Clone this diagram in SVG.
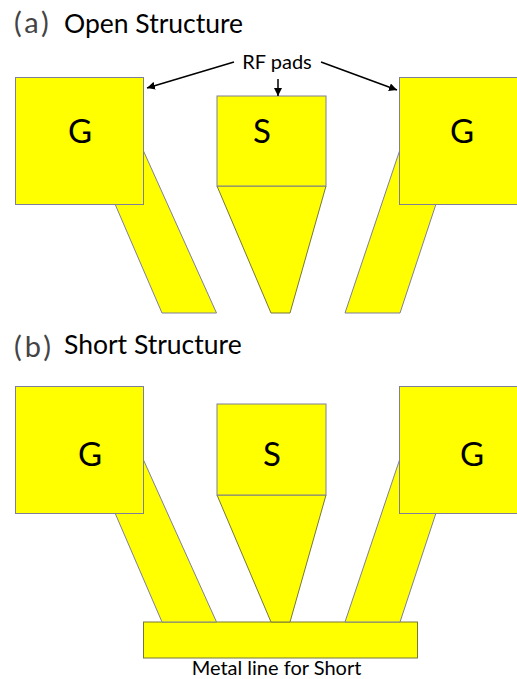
<svg xmlns="http://www.w3.org/2000/svg" width="517" height="679" viewBox="0 0 517 679">
<style>
text{font-family:"Lato","Open Sans","Liberation Sans",sans-serif;fill:#000}
.y{fill:#ffff00;stroke:#7f7f9c;stroke-width:1}
.d{fill:#ffff00;stroke:#77773a;stroke-width:1}
.t{font-size:26.5px}
.p{font-size:29px;fill:#444;letter-spacing:3px}
.l{font-size:33px;text-anchor:middle}
.s{font-size:20px;text-anchor:middle}
.c{stroke:#000;stroke-width:1.5;fill:none;marker-end:url(#a)}
</style>
<defs><marker id="a" markerUnits="userSpaceOnUse" markerWidth="9" markerHeight="8" refX="8" refY="4" orient="auto"><path d="M0 0L8 4L0 8Z" fill="#000"/></marker></defs>
<rect width="517" height="679" fill="#fff"/>
<g id="title-a"><text class="p" x="14" y="33">(a)</text><text class="t" x="64" y="33">Open Structure</text></g>
<g id="rf-label"><text class="s" x="277" y="69">RF pads</text></g>
<g id="a-left-arm"><path class="y" d="M143.5 151L216.5 313H162L115 204Z"/></g>
<g id="a-left-g"><rect class="y" x="15.5" y="77.5" width="128" height="127"/><text class="l" x="80" y="142.500">G</text></g>
<g id="a-s"><path class="d" d="M217 186H326L290 313H271Z"/><rect class="y" x="217" y="96" width="109" height="90"/><text class="l" x="262" y="142.500">S</text></g>
<g id="a-right-arm"><path class="y" d="M399.500 151L345 313H400L436 204Z"/></g>
<g id="a-right-g"><rect class="y" x="399.500" y="77.500" width="130" height="127"/><text class="l" x="462" y="142.500">G</text></g>
<g id="title-b"><text class="p" x="14" y="357">(b)</text><text class="t" x="64" y="353.500">Short Structure</text></g>
<g id="b-metal"><rect class="d" x="143.500" y="622" width="274" height="36"/></g>
<g id="b-left-arm"><path class="y" d="M143.500 460L216.500 622H162L115 513Z"/></g>
<g id="b-left-g"><rect class="y" x="15.500" y="386.500" width="128" height="127"/><text class="l" x="90" y="465.500">G</text></g>
<g id="b-s"><path class="d" d="M217 495H326L290 622H271Z"/><rect class="y" x="217" y="404" width="109" height="91"/><text class="l" x="272" y="465.500">S</text></g>
<g id="b-right-arm"><path class="y" d="M399.500 460L345 622H400L436 513Z"/></g>
<g id="b-right-g"><rect class="y" x="399.500" y="386.500" width="130" height="127"/><text class="l" x="472" y="465.500">G</text></g>
<g id="b-label"><text class="s" x="276.500" y="675">Metal line for Short</text></g>
<g id="connectors">
<path class="c" d="M234 62L147 88"/>
<path class="c" d="M278 79V96"/>
<path class="c" d="M321 62L397 90"/>
</g>
</svg>
